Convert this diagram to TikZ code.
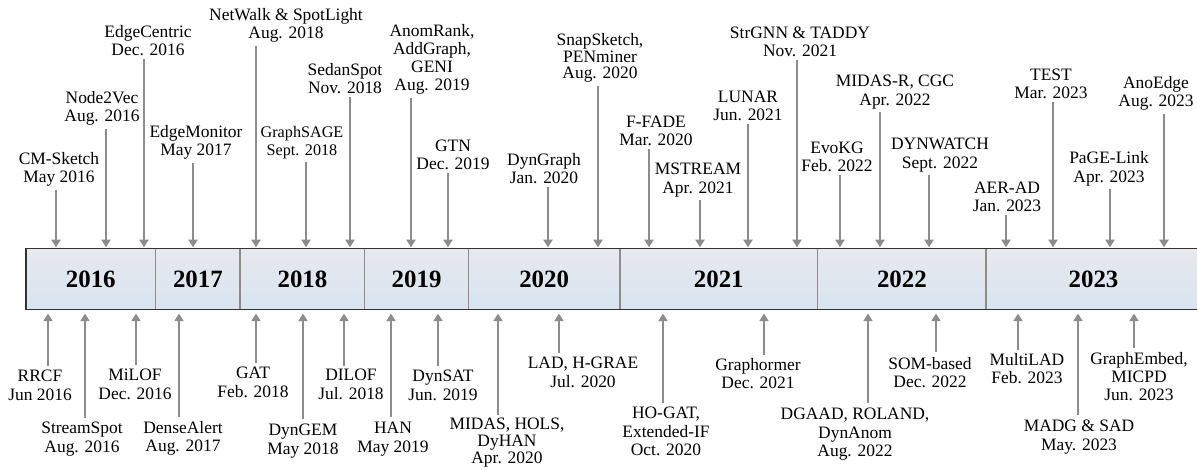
\documentclass[tikz,border=0pt]{standalone}
\usepackage{fontspec}
\setmainfont{Liberation Serif}
\usepackage{tikz}
\usetikzlibrary{arrows.meta,positioning}
\definecolor{bartop}{HTML}{E7E9ED}
\definecolor{barbot}{HTML}{D9E4F0}
\definecolor{pilgraa}{HTML}{8C8C8C}
\definecolor{rammegraa}{HTML}{333333}
\tikzset{
    >={Triangle[length=5.5pt,width=6.5pt]},
    aar/.style={
           top color=bartop, bottom color=barbot,
           minimum height=1.5cm,
           inner sep=0pt,
           font=\fontsize{17.7}{20}\selectfont\bfseries,
           text centered},
    hendelse/.style={
           inner sep=0pt,
           align=center,
           font=\fontsize{12.4}{13}\selectfont},
    litenhendelse/.style={
           hendelse,
           font=\fontsize{11.5}{12.5}\selectfont},
    tetthendelse/.style={
           hendelse,
           font=\fontsize{12.4}{12}\selectfont},
    pil/.style={
           ->,
           draw=pilgraa,
           line width=1.5pt},
    skille/.style={
           draw=pilgraa,
           line width=1pt}
}
\begin{document}
\begin{tikzpicture}[x=0.025cm, y=-0.025cm]
        \useasboundingbox (0,0) rectangle (1197,469);

        % the time bar
        \node[aar, minimum width=3.225cm, anchor=west] (y2016) at (26,279) {2016};
        \node[aar, minimum width=2.1cm, right=0pt of y2016] (y2017) {2017};
        \node[aar, minimum width=3.1cm, right=0pt of y2017] (y2018) {2018};
        \node[aar, minimum width=2.575cm, right=0pt of y2018] (y2019) {2019};
        \node[aar, minimum width=3.775cm, right=0pt of y2019] (y2020) {2020};
        \node[aar, minimum width=4.925cm, right=0pt of y2020] (y2021) {2021};
        \node[aar, minimum width=4.2cm, right=0pt of y2021] (y2022) {2022};
        \node[aar, minimum width=5.35cm, right=0pt of y2022] (y2023) {2023};

        \draw[skille] (y2016.north east) -- (y2016.south east);
        \draw[skille] (y2017.north east) -- (y2017.south east);
        \draw[skille] (y2018.north east) -- (y2018.south east);
        \draw[skille] (y2019.north east) -- (y2019.south east);
        \draw[skille] (y2020.north east) -- (y2020.south east);
        \draw[skille] (y2021.north east) -- (y2021.south east);
        \draw[skille] (y2022.north east) -- (y2022.south east);
        \draw[draw=rammegraa, line width=1.1pt] (y2016.north west) rectangle (y2023.south east);

        % above the bar
        \coordinate (pcms) at (56,190);
        \coordinate (pn2v) at (106,129);
        \coordinate (pedc) at (144,59);
        \coordinate (pedm) at (193,163);
        \coordinate (pnws) at (256,46);
        \coordinate (pgsg) at (306,162);
        \coordinate (psds) at (350,97);
        \coordinate (panr) at (411,98);
        \coordinate (pgtn) at (448,173);
        \coordinate (pdyg) at (548,187);
        \coordinate (psns) at (598,86);
        \coordinate (pffd) at (649,149);
        \coordinate (pmst) at (700,200);
        \coordinate (plun) at (748,124);
        \coordinate (pstr) at (797,60);
        \coordinate (pevo) at (840,175);
        \coordinate (pmdr) at (880,112);
        \coordinate (pdyw) at (929,175);
        \coordinate (paer) at (1006,215);
        \coordinate (ptst) at (1053,102);
        \coordinate (ppgl) at (1110,189);
        \coordinate (pano) at (1164,114);

        \node[hendelse, anchor=south] (cms) at (59,187) {CM-Sketch\\May 2016};
        \node[hendelse, anchor=south] (n2v) at (102,126) {Node2Vec\\Aug. 2016};
        \node[hendelse, anchor=south] (edc) at (148,56) {EdgeCentric\\Dec. 2016};
        \node[hendelse, anchor=south] (edm) at (196,160) {EdgeMonitor\\May 2017};
        \node[hendelse, anchor=south] (nws) at (286,43) {NetWalk \& SpotLight\\Aug. 2018};
        \node[litenhendelse, anchor=south] (gsg) at (302,159) {GraphSAGE\\Sept. 2018};
        \node[hendelse, anchor=south] (sds) at (345,94) {SedanSpot\\Nov. 2018};
        \node[hendelse, anchor=south] (anr) at (432,95) {AnomRank,\\AddGraph,\\GENI\\Aug. 2019};
        \node[hendelse, anchor=south] (gtn) at (453,170) {GTN\\Dec. 2019};
        \node[hendelse, anchor=south] (dyg) at (544,184) {DynGraph\\Jan. 2020};
        \node[tetthendelse, anchor=south] (sns) at (600,83) {SnapSketch,\\PENminer\\Aug. 2020};
        \node[hendelse, anchor=south] (ffd) at (656,146) {F-FADE\\Mar. 2020};
        \node[hendelse, anchor=south] (mst) at (698,197) {MSTREAM\\Apr. 2021};
        \node[hendelse, anchor=south] (lun) at (748,121) {LUNAR\\Jun. 2021};
        \node[hendelse, anchor=south] (str) at (800,57) {StrGNN \& TADDY\\Nov. 2021};
        \node[hendelse, anchor=south] (evo) at (837,172) {EvoKG\\Feb. 2022};
        \node[hendelse, anchor=south] (mdr) at (895,109) {MIDAS-R, CGC\\Apr. 2022};
        \node[hendelse, anchor=south] (dyw) at (940,172) {DYNWATCH\\Sept. 2022};
        \node[hendelse, anchor=south] (aer) at (1007,212) {AER-AD\\Jan. 2023};
        \node[hendelse, anchor=south] (tst) at (1051,99) {TEST\\Mar. 2023};
        \node[hendelse, anchor=south] (pgl) at (1109,186) {PaGE-Link\\Apr. 2023};
        \node[hendelse, anchor=south] (ano) at (1156,111) {AnoEdge\\Aug. 2023};

        \draw[pil, shorten >=1pt] (pcms) -- (pcms |- y2016.north);
        \draw[pil, shorten >=1pt] (pn2v) -- (pn2v |- y2016.north);
        \draw[pil, shorten >=1pt] (pedc) -- (pedc |- y2016.north);
        \draw[pil, shorten >=1pt] (pedm) -- (pedm |- y2016.north);
        \draw[pil, shorten >=1pt] (pnws) -- (pnws |- y2016.north);
        \draw[pil, shorten >=1pt] (pgsg) -- (pgsg |- y2016.north);
        \draw[pil, shorten >=1pt] (psds) -- (psds |- y2016.north);
        \draw[pil, shorten >=1pt] (panr) -- (panr |- y2016.north);
        \draw[pil, shorten >=1pt] (pgtn) -- (pgtn |- y2016.north);
        \draw[pil, shorten >=1pt] (pdyg) -- (pdyg |- y2016.north);
        \draw[pil, shorten >=1pt] (psns) -- (psns |- y2016.north);
        \draw[pil, shorten >=1pt] (pffd) -- (pffd |- y2016.north);
        \draw[pil, shorten >=1pt] (pmst) -- (pmst |- y2016.north);
        \draw[pil, shorten >=1pt] (plun) -- (plun |- y2016.north);
        \draw[pil, shorten >=1pt] (pstr) -- (pstr |- y2016.north);
        \draw[pil, shorten >=1pt] (pevo) -- (pevo |- y2016.north);
        \draw[pil, shorten >=1pt] (pmdr) -- (pmdr |- y2016.north);
        \draw[pil, shorten >=1pt] (pdyw) -- (pdyw |- y2016.north);
        \draw[pil, shorten >=1pt] (paer) -- (paer |- y2016.north);
        \draw[pil, shorten >=1pt] (ptst) -- (ptst |- y2016.north);
        \draw[pil, shorten >=1pt] (ppgl) -- (ppgl |- y2016.north);
        \draw[pil, shorten >=1pt] (pano) -- (pano |- y2016.north);

        % below the bar
        \coordinate (prrc) at (48,366);
        \coordinate (pssp) at (85,418);
        \coordinate (pmil) at (136,365);
        \coordinate (pdna) at (179,417);
        \coordinate (pgat) at (256,363);
        \coordinate (pdgm) at (303,419);
        \coordinate (pdil) at (344,366);
        \coordinate (phan) at (391,417);
        \coordinate (pdys) at (438,366);
        \coordinate (pmid) at (498,415);
        \coordinate (plad) at (559,353);
        \coordinate (phog) at (663,403);
        \coordinate (pgrf) at (764,355);
        \coordinate (pdga) at (868,403);
        \coordinate (psom) at (936,352);
        \coordinate (pmla) at (1018,350);
        \coordinate (pmad) at (1078,415);
        \coordinate (pgre) at (1134,348);

        \node[hendelse, anchor=north] (rrc) at (40,370) {RRCF\\Jun 2016};
        \node[hendelse, anchor=north] (ssp) at (82,422) {StreamSpot\\Aug. 2016};
        \node[hendelse, anchor=north] (mil) at (135,369) {MiLOF\\Dec. 2016};
        \node[hendelse, anchor=north] (dna) at (183,421) {DenseAlert\\Aug. 2017};
        \node[hendelse, anchor=north] (gat) at (253,367) {GAT\\Feb. 2018};
        \node[hendelse, anchor=north] (dgm) at (303,424) {DynGEM\\May 2018};
        \node[hendelse, anchor=north] (dil) at (351,369) {DILOF\\Jul. 2018};
        \node[hendelse, anchor=north] (han) at (393,422) {HAN\\May 2019};
        \node[hendelse, anchor=north] (dys) at (443,370) {DynSAT\\Jun. 2019};
        \node[tetthendelse, anchor=north] (mid) at (507,418) {MIDAS, HOLS,\\DyHAN\\Apr. 2020};
        \node[hendelse, anchor=north] (lad) at (583,357) {LAD, H-GRAE\\Jul. 2020};
        \node[hendelse, anchor=north] (hog) at (666,407) {HO-GAT,\\Extended-IF\\Oct. 2020};
        \node[hendelse, anchor=north] (grf) at (758,358) {Graphormer\\Dec. 2021};
        \node[hendelse, anchor=north] (dga) at (855,408) {DGAAD, ROLAND,\\DynAnom\\Aug. 2022};
        \node[hendelse, anchor=north] (som) at (930,357) {SOM-based\\Dec. 2022};
        \node[hendelse, anchor=north] (mla) at (1027,353) {MultiLAD\\Feb. 2023};
        \node[hendelse, anchor=north] (mad) at (1079,420) {MADG \& SAD\\May. 2023};
        \node[hendelse, anchor=north] (gre) at (1139,352) {GraphEmbed,\\MICPD\\Jun. 2023};

        \draw[pil, shorten >=3pt] (prrc) -- (prrc |- y2016.south);
        \draw[pil, shorten >=3pt] (pssp) -- (pssp |- y2016.south);
        \draw[pil, shorten >=3pt] (pmil) -- (pmil |- y2016.south);
        \draw[pil, shorten >=3pt] (pdna) -- (pdna |- y2016.south);
        \draw[pil, shorten >=3pt] (pgat) -- (pgat |- y2016.south);
        \draw[pil, shorten >=3pt] (pdgm) -- (pdgm |- y2016.south);
        \draw[pil, shorten >=3pt] (pdil) -- (pdil |- y2016.south);
        \draw[pil, shorten >=3pt] (phan) -- (phan |- y2016.south);
        \draw[pil, shorten >=3pt] (pdys) -- (pdys |- y2016.south);
        \draw[pil, shorten >=3pt] (pmid) -- (pmid |- y2016.south);
        \draw[pil, shorten >=3pt] (plad) -- (plad |- y2016.south);
        \draw[pil, shorten >=3pt] (phog) -- (phog |- y2016.south);
        \draw[pil, shorten >=3pt] (pgrf) -- (pgrf |- y2016.south);
        \draw[pil, shorten >=3pt] (pdga) -- (pdga |- y2016.south);
        \draw[pil, shorten >=3pt] (psom) -- (psom |- y2016.south);
        \draw[pil, shorten >=3pt] (pmla) -- (pmla |- y2016.south);
        \draw[pil, shorten >=3pt] (pmad) -- (pmad |- y2016.south);
        \draw[pil, shorten >=3pt] (pgre) -- (pgre |- y2016.south);
\end{tikzpicture}
\end{document}
